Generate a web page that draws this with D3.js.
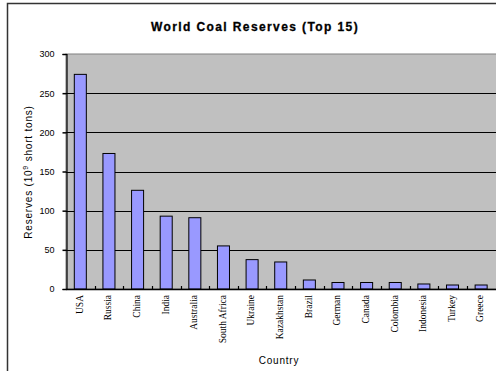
<!DOCTYPE html>
<html>
<head>
<meta charset="utf-8">
<script src="https://cdn.jsdelivr.net/npm/d3@7"></script>
<style>
  html, body { margin: 0; padding: 0; background: #fff; }
  svg { display: block; }
</style>
</head>
<body>
<svg id="chart" width="496" height="371"></svg>
<script>
// World coal reserves, top 15 countries (billion short tons)
const countries = ["USA", "Russia", "China", "India", "Australia", "South Africa", "Ukraine",
  "Kazakhstan", "Brazil", "German", "Canada", "Colombia", "Indonesia", "Turkey", "Greece"];
const reserves = [274, 173, 126, 93, 91, 55, 37.5, 34.5, 11.5, 8.3, 8.3, 8.3, 6.4, 5.1, 5.1];
const yTicks = [0, 50, 100, 150, 200, 250, 300];

const svg = d3.select("#chart");

// chart frame
svg.append("rect")
  .attr("x", 7.5).attr("y", 3.5)
  .attr("width", 520).attr("height", 400)
  .attr("fill", "#fff").attr("stroke", "#333").attr("stroke-width", 1.5);

const plot = { left: 66, right: 496, top: 54, bottom: 289 };

const x = d3.scaleBand()
  .domain(countries)
  .range([plot.left, plot.left + 28.63 * countries.length])
  .paddingInner(0.58).paddingOuter(0.29);

const xBand = d3.scaleBand()
  .domain(countries)
  .range([plot.left, plot.left + 28.63 * countries.length]);

const y = d3.scaleLinear().domain([0, 300]).range([plot.bottom, plot.top]);

// plot area
svg.append("rect")
  .attr("x", plot.left).attr("y", plot.top)
  .attr("width", 540).attr("height", plot.bottom - plot.top)
  .attr("fill", "#C0C0C0").attr("stroke", "#808080").attr("stroke-width", 1);

// gridlines
svg.append("g")
  .selectAll("line")
  .data(yTicks.filter(t => t > 0 && t < 300))
  .join("line")
  .attr("x1", plot.left).attr("x2", 540)
  .attr("y1", d => Math.round(y(d)) + 0.5).attr("y2", d => Math.round(y(d)) + 0.5)
  .attr("stroke", "#000").attr("stroke-width", 1);

// bars
svg.append("g")
  .selectAll("rect")
  .data(countries.map((c, i) => ({ c, v: reserves[i] })))
  .join("rect")
  .attr("x", d => x(d.c))
  .attr("width", x.bandwidth())
  .attr("y", d => y(d.v))
  .attr("height", d => y(0) - y(d.v))
  .attr("fill", "#9999FF").attr("stroke", "#000").attr("stroke-width", 1);

// y axis
const yAxis = svg.append("g")
  .attr("transform", `translate(${plot.left + 0.5},0)`)
  .call(d3.axisLeft(y).tickValues(yTicks).tickSize(4).tickPadding(8));
yAxis.select(".domain").attr("stroke", "#000").attr("stroke-width", 1.2);
yAxis.selectAll(".tick line").attr("stroke", "#000").attr("stroke-width", 1.5);
yAxis.selectAll("text")
  .attr("font-family", "Liberation Sans, Arial, sans-serif")
  .attr("font-size", 9).attr("fill", "#000");

// x axis line with tick marks at category boundaries
svg.append("line")
  .attr("x1", plot.left).attr("x2", 540)
  .attr("y1", plot.bottom + 0.5).attr("y2", plot.bottom + 0.5)
  .attr("stroke", "#000").attr("stroke-width", 1.5);
svg.append("g")
  .selectAll("line")
  .data(countries.slice(1))
  .join("line")
  .attr("x1", d => Math.round(xBand(d)) + 0.5).attr("x2", d => Math.round(xBand(d)) + 0.5)
  .attr("y1", plot.bottom - 3).attr("y2", plot.bottom)
  .attr("stroke", "#000").attr("stroke-width", 1.2);

// category labels
svg.append("g")
  .selectAll("text")
  .data(countries)
  .join("text")
  .attr("transform", d => `translate(${xBand(d) + xBand.bandwidth() / 2 - 1},295) rotate(-90)`)
  .attr("text-anchor", "end")
  .attr("dy", "0.35em")
  .attr("font-family", "Liberation Serif, Times New Roman, serif")
  .attr("font-size", 9.5).attr("fill", "#000")
  .text(d => d);

// title
svg.append("text")
  .attr("x", 255).attr("y", 31)
  .attr("text-anchor", "middle")
  .attr("font-family", "Liberation Sans, Arial, sans-serif")
  .attr("font-weight", "bold").attr("font-size", 12)
  .attr("stroke", "#000").attr("stroke-width", 0.3)
  .attr("letter-spacing", 1.4)
  .text("World Coal Reserves (Top 15)");

// y axis title
const yTitle = svg.append("text")
  .attr("transform", "translate(32,172) rotate(-90)")
  .attr("text-anchor", "middle")
  .attr("font-family", "Liberation Sans, Arial, sans-serif")
  .attr("font-size", 10).attr("letter-spacing", 0.8);
yTitle.append("tspan").text("Reserves (10");
yTitle.append("tspan").attr("dy", -4).attr("font-size", 7).text("9");
yTitle.append("tspan").attr("dy", 4).text(" short tons)");

// x axis title
svg.append("text")
  .attr("x", 279).attr("y", 364)
  .attr("text-anchor", "middle")
  .attr("font-family", "Liberation Sans, Arial, sans-serif")
  .attr("font-size", 10).attr("letter-spacing", 0.8)
  .text("Country");
</script>
</body>
</html>
